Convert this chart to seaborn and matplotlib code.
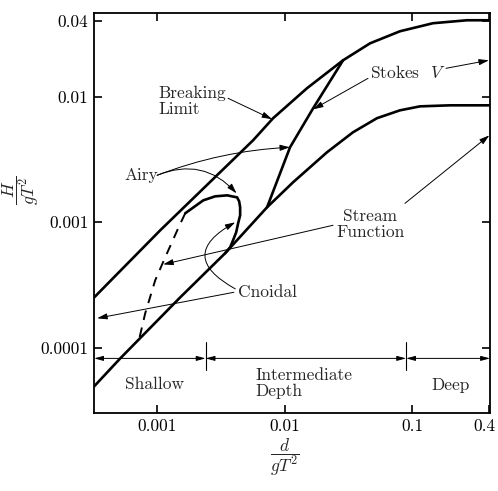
import matplotlib
matplotlib.use("Agg")
import matplotlib.pyplot as plt
import matplotlib.transforms as mtransforms
from matplotlib.ticker import NullLocator
import seaborn as sns

# --- data (d/gT^2, H/gT^2) ---
# breaking limit (upper curve)
brk_x = [3.2e-4, 1.056e-3, 5.66e-3, 8.13e-3, 0.0150, 0.0288, 0.0469, 0.0805, 0.1462, 0.270, 0.41]
brk_y = [2.52e-4, 8.63e-4, 4.50e-3, 6.75e-3, 0.0117, 0.01954, 0.02667, 0.03326, 0.03855, 0.0407, 0.0407]

# lower curve (Airy / stream function limit)
low_x = [3.2e-4, 5.13e-4, 1.514e-3, 3.41e-3, 7.29e-3, 0.01167, 0.0215, 0.0344, 0.0531, 0.0805, 0.1156, 0.1986, 0.41]
low_y = [4.93e-5, 8.24e-5, 2.52e-4, 5.66e-4, 1.318e-3, 2.085e-3, 3.61e-3, 5.21e-3, 6.75e-3, 7.80e-3, 8.39e-3, 8.55e-3, 8.55e-3]

# Stokes boundary
stk_x = [7.29e-3, 0.01104, 0.01675, 0.0288]
stk_y = [1.318e-3, 3.96e-3, 8.09e-3, 0.01954]

# cnoidal loop
cn_x = [1.66e-3, 2.30e-3, 2.85e-3, 3.54e-3, 4.24e-3, 4.40e-3, 4.48e-3, 4.48e-3,
        4.32e-3, 4.17e-3, 3.94e-3, 3.74e-3, 3.41e-3]
cn_y = [1.18e-3, 1.496e-3, 1.61e-3, 1.64e-3, 1.58e-3, 1.47e-3, 1.318e-3, 1.137e-3,
        9.82e-4, 8.32e-4, 7.19e-4, 6.32e-4, 5.66e-4]

# dashed line
dash_x = [1.66e-3, 1.462e-3, 1.156e-3, 9.65e-4, 8.05e-4, 7.10e-4]
dash_y = [1.18e-3, 8.96e-4, 5.26e-4, 3.45e-4, 1.88e-4, 1.086e-4]

# depth zones
zone_bounds = [3.2e-4, 0.0024, 0.09, 0.41]
zone_y = 8.24e-5

xticks = [0.001, 0.01, 0.1, 0.4]
xtick_labels = ["0.001", "0.01", "0.1", "0.4"]
yticks = [0.0001, 0.001, 0.01, 0.04]
ytick_labels = ["0.0001", "0.001", "0.01", "0.04"]

sns.set_theme(style="ticks")
plt.rcParams["font.family"] = ["cmr10", "DejaVu Serif"]
plt.rcParams["mathtext.fontset"] = "cm"
plt.rcParams["axes.formatter.use_mathtext"] = True

fig = plt.figure(figsize=(4.98, 4.91), dpi=100)
ax = fig.add_axes([0.189, 0.159, 0.795, 0.815])

thick = dict(color="black", linewidth=1.9, sort=False, estimator=None, ax=ax)
sns.lineplot(x=brk_x, y=brk_y, **thick)
sns.lineplot(x=low_x, y=low_y, **thick)
sns.lineplot(x=stk_x, y=stk_y, **thick)
sns.lineplot(x=cn_x, y=cn_y, **thick)
ax.plot(dash_x, dash_y, color="black", linewidth=1.4, linestyle=(0, (5, 4)))

ax.set_xscale("log")
ax.set_yscale("log")
ax.set_xlim(3.2e-4, 0.41)
ax.set_ylim(3.03e-5, 0.0467)
ax.set_xticks(xticks)
ax.set_xticklabels(xtick_labels)
ax.set_yticks(yticks)
ax.set_yticklabels(ytick_labels)
ax.xaxis.set_minor_locator(NullLocator())
ax.yaxis.set_minor_locator(NullLocator())
ax.tick_params(which="major", direction="in", length=6, width=1.2,
               top=True, right=True, labelsize=12.5, colors="black")
ax.tick_params(axis="x", pad=4)
ax.tick_params(axis="y", pad=4)
for s in ax.spines.values():
    s.set_linewidth(1.3)
    s.set_color("black")

# keep the last x label inside the figure
last = ax.get_xticklabels()[-1]
last.set_transform(last.get_transform() +
                   mtransforms.ScaledTranslation(-4 / 100, 0, fig.dpi_scale_trans))

arr = dict(arrowstyle="-|>,head_length=0.5,head_width=0.15", color="black",
           lw=0.7, shrinkA=0, shrinkB=0)
fs = 12.5

# Breaking limit
ax.text(1.018e-3, 9.2e-3, "Breaking\nLimit", fontsize=fs, ha="left", va="center",
        linespacing=1.0)
ax.annotate("", xy=(7.98e-3, 6.63e-3), xytext=(3.60e-3, 9.73e-3), arrowprops=arr)

# Airy
ax.text(7.49e-4, 2.37e-3, "Airy", fontsize=fs, ha="center", va="center")
ax.annotate("", xy=(0.01104, 3.96e-3), xytext=(1.0e-3, 2.37e-3),
            arrowprops=dict(arr, connectionstyle="arc3,rad=-0.08"))
ax.annotate("", xy=(4.2e-3, 1.70e-3), xytext=(1.0e-3, 2.37e-3),
            arrowprops=dict(arr, connectionstyle="arc3,rad=-0.35"))

# Stokes V
ax.text(0.0469, 0.01567, "Stokes  $V$", fontsize=fs, ha="left", va="center")
ax.annotate("", xy=(0.01675, 7.94e-3), xytext=(0.0452, 0.01403), arrowprops=arr)
ax.annotate("", xy=(0.402, 0.01954), xytext=(0.185, 0.01686), arrowprops=arr)

# Stream function
ax.text(0.0469, 9.64e-4, "Stream\nFunction", fontsize=fs, ha="center", va="center",
        linespacing=1.0)
ax.annotate("", xy=(0.405, 4.93e-3), xytext=(0.0881, 1.416e-3), arrowprops=arr)
ax.annotate("", xy=(1.115e-3, 4.62e-4), xytext=(0.0240, 9.47e-4), arrowprops=arr)

# Cnoidal
ax.text(4.32e-3, 2.77e-4, "Cnoidal", fontsize=fs, ha="left", va="center")
ax.annotate("", xy=(4.1e-3, 1.0e-3), xytext=(4.1e-3, 2.95e-4),
            arrowprops=dict(arr, connectionstyle="arc3,rad=-0.9"))
ax.annotate("", xy=(3.38e-4, 1.72e-4), xytext=(4.0e-3, 2.77e-4), arrowprops=arr)

# depth zones
zarr = dict(arrowstyle="<|-|>,head_length=0.45,head_width=0.12", color="black",
            lw=0.7, shrinkA=0, shrinkB=0)
for a, b in zip(zone_bounds[:-1], zone_bounds[1:]):
    ax.annotate("", xy=(b, zone_y), xytext=(a, zone_y), arrowprops=zarr)
for b in zone_bounds[1:-1]:
    ax.plot([b, b], [6.6e-5, 1.12e-4], color="black", lw=0.8)
ax.text(9.47e-4, 5.12e-5, "Shallow", fontsize=fs, ha="center", va="center")
ax.text(5.87e-3, 5.21e-5, "Intermediate\nDepth", fontsize=fs, ha="left", va="center",
        linespacing=1.0)
ax.text(0.2023, 5.05e-5, "Deep", fontsize=fs, ha="center", va="center")

ax.set_xlabel("")
ax.set_ylabel("")
fig.text(21 / 498, 1 - 190 / 491, r"$\dfrac{H}{gT^2}$", rotation=90,
         ha="center", va="center", fontsize=12.5)
fig.text(285 / 498, 1 - 457 / 491, r"$\dfrac{d}{gT^2}$",
         ha="center", va="center", fontsize=12.5)

fig.savefig("out.png", dpi=100)
